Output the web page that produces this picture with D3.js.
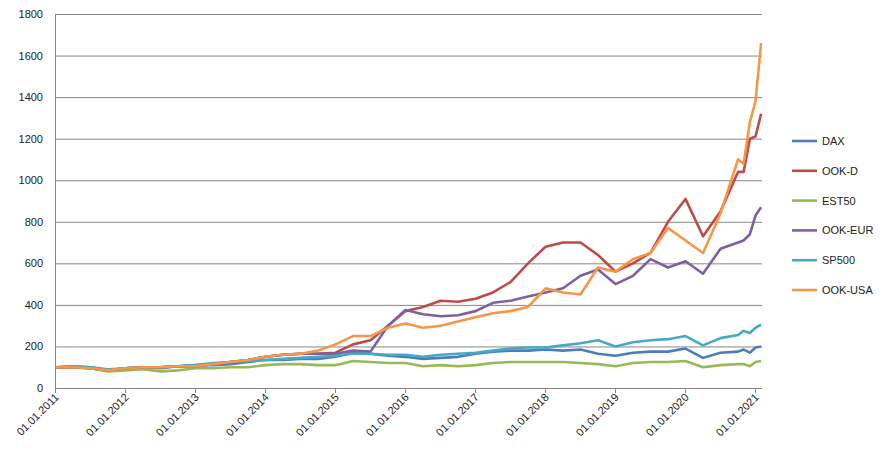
<!DOCTYPE html><html><head><meta charset="utf-8"><script src="https://d3js.org/d3.v7.min.js"></script>
<style>body{margin:0;background:#fff}text{font-family:"Liberation Sans",Arial,sans-serif;font-size:11px;fill:#222}</style></head><body><svg width="884" height="459"></svg><script>
const times=[];for(let i=0;i<40;i++)times.push(2011+i*0.25);times.push(2020.83,2020.92,2021.0,2021.08);
const seriesNames=["DAX","OOK-D","EST50","OOK-EUR","SP500","OOK-USA"];
const colors=["#4a7ebb","#be4b48","#98b954","#7d60a0","#46aac5","#f79646"];
const DAX=[100,105,100,85, 95,100,95,105, 110,110,115,125, 135,135,140,140, 150,170,165,155, 150,140,145,150, 165,175,180,180, 185,180,185,165, 155,170,175,175, 190,145,170,175, 185,170,195,200];
const OOKD=[100,100,95,85, 95,100,100,105, 105,115,125,135, 150,160,165,165, 170,210,230,300, 370,390,420,415, 430,460,510,600, 680,700,700,640, 560,600,650,800, 910,730,850,1040, 1040,1200,1210,1320];
const EST50=[100,100,95,80, 85,90,80,85, 95,95,100,100, 110,115,115,110, 110,130,125,120, 120,105,110,105, 110,120,125,125, 125,125,120,115, 105,120,125,125, 130,100,110,115, 115,105,125,130];
const OOKEUR=[100,100,95,85, 95,100,100,105, 105,115,125,135, 150,160,165,165, 165,180,175,300, 375,355,345,350, 370,410,420,440, 460,480,540,570, 500,540,620,580, 610,550,670,700, 710,740,830,870];
const SP500=[100,105,100,90, 95,100,100,105, 110,120,125,130, 135,140,145,150, 155,165,165,160, 160,150,160,165, 170,180,190,195, 195,205,215,230, 200,220,230,235, 250,205,240,255, 275,265,290,305];
const OOKUSA=[100,100,95,85, 95,100,100,105, 105,115,125,135, 150,160,165,180, 210,250,250,290, 310,290,300,320, 340,360,370,390, 480,460,450,580, 560,620,650,770, 710,650,840,1100, 1080,1280,1380,1660];
const values=[DAX,OOKD,EST50,OOKEUR,SP500,OOKUSA];
const yTicks=[0,200,400,600,800,1000,1200,1400,1600,1800];
const xTicks=d3.range(2011,2022);
const svg=d3.select("svg");
const x=d3.scaleLinear().domain([2011,2021.1]).range([55.5,762.5]);
const y=d3.scaleLinear().domain([0,1800]).range([388,14]);
svg.append("g").selectAll("line").data(yTicks.slice(1)).join("line").attr("x1",55.5).attr("x2",762).attr("y1",d=>y(d)+.5).attr("y2",d=>y(d)+.5).attr("stroke","#868686");
svg.append("g").selectAll("text").data(yTicks).join("text").attr("x",43).attr("y",d=>y(d)+4).attr("text-anchor","end").text(d=>d);
svg.append("line").attr("x1",55.5).attr("x2",55.5).attr("y1",14).attr("y2",388).attr("stroke","#868686");
svg.append("line").attr("x1",55.5).attr("x2",762).attr("y1",388.5).attr("y2",388.5).attr("stroke","#868686");
svg.append("g").selectAll("line").data(xTicks).join("line").attr("x1",d=>x(d)).attr("x2",d=>x(d)).attr("y1",388).attr("y2",393).attr("stroke","#868686");
svg.append("g").selectAll("text").data(xTicks).join("text").attr("transform",d=>`translate(${x(d)+4},${398}) rotate(-45)`).attr("text-anchor","end").text(d=>"01.01."+d);
const line=d3.line().x((d,i)=>x(times[i])).y(d=>y(d));
values.forEach((v,k)=>svg.append("path").attr("d",line(v)).attr("fill","none").attr("stroke",colors[k]).attr("stroke-width",2.6).attr("stroke-linejoin","round"));
const lg=svg.append("g").selectAll("g").data(seriesNames).join("g").attr("transform",(d,i)=>`translate(792,${141+i*29.8})`);
lg.append("line").attr("x1",0).attr("x2",25).attr("stroke",(d,i)=>colors[i]).attr("stroke-width",2.6);
lg.append("text").attr("x",30).attr("y",4).text(d=>d);
</script></body></html>
